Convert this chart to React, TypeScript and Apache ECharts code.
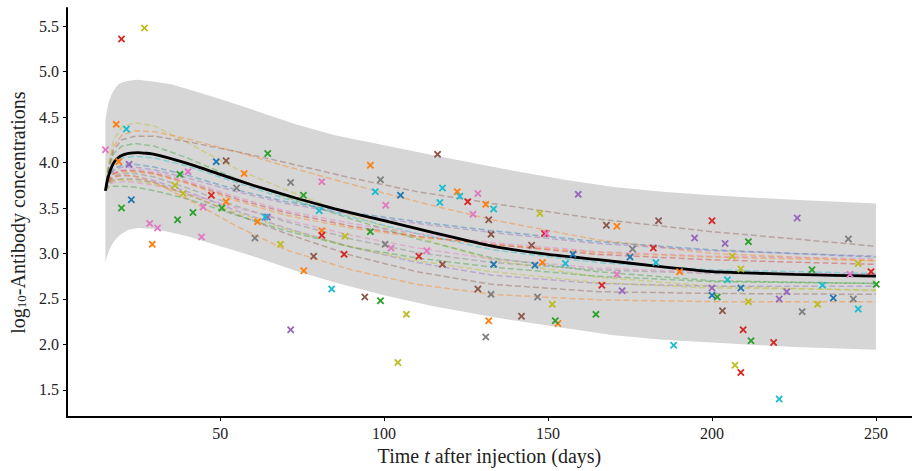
import React, { useEffect, useRef } from "react";
import * as echarts from "echarts";

// ---------- data ----------
const xTicks = [50, 100, 150, 200, 250];
const yTicks = [1.5, 2.0, 2.5, 3.0, 3.5, 4.0, 4.5, 5.0, 5.5];

// prediction band (grey)
const bandT = [15, 15.5, 16, 17, 18, 19, 20, 22, 25, 30, 35, 40, 50, 60, 73, 85, 100, 115, 135, 155, 170, 185, 200, 225, 250];
const bandUpper = [4.47, 4.58, 4.66, 4.76, 4.82, 4.86, 4.88, 4.9, 4.91, 4.89, 4.86, 4.81, 4.7, 4.58, 4.42, 4.3, 4.19, 4.08, 3.94, 3.81, 3.73, 3.68, 3.64, 3.59, 3.55];
const bandLower = [2.9, 2.97, 3.02, 3.1, 3.15, 3.19, 3.22, 3.26, 3.28, 3.27, 3.23, 3.19, 3.08, 2.97, 2.81, 2.68, 2.54, 2.42, 2.29, 2.18, 2.1, 2.05, 2.02, 1.97, 1.94];

// population mean curve (black)
const meanT = [15, 15.5, 16, 17, 18, 19.5, 22, 25, 30, 40, 50, 60, 73, 85, 100, 115, 133, 150, 166, 183, 200, 225, 250];
const meanV = [3.69, 3.79, 3.86, 3.96, 4.02, 4.07, 4.1, 4.11, 4.09, 3.99, 3.87, 3.75, 3.61, 3.49, 3.36, 3.23, 3.08, 2.99, 2.93, 2.86, 2.8, 2.77, 2.75];

// individual fitted curves (dashed)
const indivT = [15, 16, 17.5, 20, 24, 30, 40, 55, 70, 90, 110, 133, 165, 200, 250];
const curveOlive = [3.69, 3.98, 4.25, 4.39, 4.44, 4.4, 4.22, 3.93, 3.7, 3.42, 3.18, 2.93, 2.74, 2.64, 2.59];
const curveOrange = [3.69, 3.96, 4.18, 4.3, 4.35, 4.34, 4.26, 4.12, 3.96, 3.76, 3.57, 3.37, 3.15, 3.0, 2.92];
const curveBrown = [3.69, 3.95, 4.14, 4.25, 4.29, 4.29, 4.23, 4.12, 4.0, 3.83, 3.68, 3.55, 3.38, 3.24, 3.08];
const curveGreen = [3.69, 3.93, 4.1, 4.18, 4.21, 4.18, 4.05, 3.82, 3.62, 3.38, 3.16, 2.95, 2.8, 2.7, 2.67];
const curveCyan = [3.69, 3.88, 4.0, 4.05, 4.07, 4.05, 3.96, 3.78, 3.6, 3.4, 3.22, 3.04, 2.9, 2.82, 2.78];
const curveBlue = [3.69, 3.84, 3.93, 3.97, 3.98, 3.95, 3.86, 3.7, 3.57, 3.45, 3.35, 3.25, 3.13, 3.04, 2.96];
const curvePurple = [3.69, 3.83, 3.91, 3.95, 3.95, 3.92, 3.83, 3.68, 3.55, 3.43, 3.33, 3.23, 3.11, 3.03, 2.97];
const curvePink = [3.69, 3.81, 3.88, 3.92, 3.93, 3.9, 3.8, 3.62, 3.47, 3.33, 3.22, 3.12, 3.02, 2.97, 2.94];
const curveRed = [3.69, 3.81, 3.88, 3.91, 3.91, 3.88, 3.78, 3.6, 3.45, 3.3, 3.19, 3.1, 2.99, 2.93, 2.88];
const curveOrange2 = [3.69, 3.8, 3.87, 3.9, 3.9, 3.87, 3.77, 3.58, 3.42, 3.28, 3.18, 3.1, 3.01, 2.96, 2.92];
const curveGray = [3.69, 3.79, 3.85, 3.88, 3.88, 3.84, 3.72, 3.52, 3.35, 3.16, 3.01, 2.9, 2.82, 2.78, 2.76];
const curvePink2 = [3.69, 3.76, 3.78, 3.79, 3.78, 3.75, 3.66, 3.5, 3.37, 3.2, 3.06, 2.94, 2.84, 2.79, 2.77];
const curvePurple2 = [3.69, 3.79, 3.84, 3.86, 3.85, 3.8, 3.68, 3.47, 3.28, 3.07, 2.9, 2.76, 2.67, 2.64, 2.64];
const curveBrown2 = [3.69, 3.77, 3.81, 3.82, 3.82, 3.78, 3.65, 3.43, 3.22, 2.98, 2.8, 2.66, 2.58, 2.56, 2.55];
const curveGreen2 = [3.69, 3.73, 3.74, 3.74, 3.73, 3.69, 3.6, 3.42, 3.25, 3.07, 2.95, 2.85, 2.75, 2.69, 2.67];
const curveOlive2 = [3.69, 3.76, 3.8, 3.81, 3.8, 3.76, 3.65, 3.45, 3.27, 3.07, 2.92, 2.8, 2.68, 2.62, 2.6];
const curveOrange3 = [3.69, 3.79, 3.84, 3.86, 3.85, 3.78, 3.6, 3.3, 3.04, 2.82, 2.66, 2.55, 2.49, 2.47, 2.47];

// observations [day, log10 concentration]
const obsBlue = [[22.9, 3.59], [48.8, 4.01], [105.0, 3.64], [133.4, 2.88], [146.0, 2.87], [157.6, 2.99], [175.0, 2.96], [200, 2.54], [208.8, 2.62], [237.0, 2.51]];
const obsOrange = [[18.3, 4.42], [19.1, 4.01], [29.3, 3.1], [51.8, 3.57], [57.3, 3.88], [61.4, 3.35], [75.5, 2.81], [81, 3.25], [95.8, 3.97], [122.3, 3.68], [131.0, 3.54], [131.9, 2.26], [148.3, 2.9], [153.0, 2.23], [171.0, 3.3], [190.1, 2.8]];
const obsGreen = [[19.9, 3.5], [37.0, 3.37], [37.7, 3.87], [41.7, 3.45], [50.5, 3.5], [64.5, 4.1], [75.4, 3.64], [95.8, 3.24], [98.9, 2.48], [152.2, 2.26], [164.6, 2.33], [201.6, 2.52], [211.1, 3.13], [211.9, 2.04], [230.5, 2.82], [250.1, 2.66]];
const obsRed = [[19.9, 5.36], [47.3, 3.64], [81, 3.2], [87.8, 2.99], [110.6, 2.97], [125.5, 3.57], [148.9, 3.22], [166.4, 2.65], [182.1, 3.06], [200, 3.36], [209.5, 2.16], [208.8, 1.69], [218.8, 2.02], [248.5, 2.8]];
const obsPurple = [[22.2, 3.98], [64.4, 3.4], [71.5, 2.16], [159.2, 3.65], [172.6, 2.59], [194.7, 3.17], [200, 2.62], [204.0, 3.11], [220.5, 2.5], [222.8, 2.58], [226, 3.39]];
const obsBrown = [[51.8, 4.02], [78.5, 2.97], [94.1, 2.52], [116.3, 4.09], [117.8, 2.88], [128.6, 2.61], [131.9, 3.37], [132.6, 3.21], [141.9, 2.31], [145.0, 3.09], [167.8, 3.31], [183.7, 3.36], [203.2, 2.37]];
const obsPink = [[15.0, 4.14], [28.5, 3.33], [30.9, 3.28], [40.2, 3.9], [44.3, 3.18], [44.8, 3.51], [81.0, 3.79], [100.5, 3.53], [102.1, 3.06], [113.0, 3.03], [127.1, 3.43], [128.6, 3.66], [149.5, 3.22], [171, 2.77], [242.1, 2.77]];
const obsGray = [[55.0, 3.72], [60.6, 3.17], [71.5, 3.78], [98.9, 3.81], [100.3, 3.1], [131.0, 2.08], [132.6, 2.55], [146.8, 2.52], [175.8, 3.05], [227.5, 2.36], [241.6, 3.16], [243.1, 2.5]];
const obsOlive = [[26.9, 5.48], [36.2, 3.75], [38.7, 3.66], [68.4, 3.1], [88.1, 3.19], [104.2, 1.8], [106.8, 2.33], [147.5, 3.44], [151.3, 2.44], [206.2, 2.97], [207.0, 1.77], [208.8, 2.83], [211.1, 2.47], [232.2, 2.44], [244.6, 2.89]];
const obsCyan = [[21.4, 4.37], [63.7, 3.4], [80.2, 3.47], [84.0, 2.61], [97.3, 3.68], [117.0, 3.56], [117.8, 3.72], [123.1, 3.63], [133.4, 3.49], [155.3, 2.89], [182.9, 2.9], [188.3, 1.99], [204.7, 2.71], [220.5, 1.4], [233.7, 2.65], [244.6, 2.39]];

// ---------- styling ----------
const C = {
  blue: "#1f77b4", orange: "#ff7f0e", green: "#2ca02c", red: "#d62728", purple: "#9467bd",
  brown: "#8c564b", pink: "#e377c2", gray: "#7f7f7f", olive: "#bcbd22", cyan: "#17becf",
};
const FONT = '"Liberation Serif", "Times New Roman", serif';
const CROSS = "path://M0,1.7 L1.7,0 L5,3.3 L8.3,0 L10,1.7 L6.7,5 L10,8.3 L8.3,10 L5,6.7 L1.7,10 L0,8.3 L3.3,5 Z";

const curves: [number[], string][] = [
  [curveOlive, C.olive], [curveOrange, C.orange], [curveBrown, C.brown], [curveGreen, C.green],
  [curveCyan, C.cyan], [curveBlue, C.blue], [curvePurple, C.purple], [curvePink, C.pink],
  [curveRed, C.red], [curveOrange2, C.orange], [curveGray, C.gray], [curvePink2, C.pink],
  [curvePurple2, C.purple], [curveBrown2, C.brown], [curveGreen2, C.green], [curveOlive2, C.olive],
  [curveOrange3, C.orange],
];
const observations: [number[][], string][] = [
  [obsBlue, C.blue], [obsOrange, C.orange], [obsGreen, C.green], [obsRed, C.red], [obsPurple, C.purple],
  [obsBrown, C.brown], [obsPink, C.pink], [obsGray, C.gray], [obsOlive, C.olive], [obsCyan, C.cyan],
];

export default function App() {
  const ref = useRef<HTMLDivElement>(null);
  useEffect(() => {
    if (!ref.current) return;
    const chart = echarts.init(ref.current, undefined, { renderer: "svg" });
    const series: any[] = [];
    series.push({
      type: "custom", z: 1, silent: true, clip: true,
      data: [[bandT[0], bandUpper[0]]],
      renderItem: (_params: any, api: any) => {
        const pts: number[][] = [];
        for (let i = 0; i < bandT.length; i++) pts.push(api.coord([bandT[i], bandUpper[i]]));
        for (let i = bandT.length - 1; i >= 0; i--) pts.push(api.coord([bandT[i], bandLower[i]]));
        return { type: "polygon", shape: { points: pts }, style: { fill: "#d6d6d6", stroke: "none" } };
      },
    });
    curves.forEach(([vals, col]) => {
      series.push({
        type: "line", symbol: "none", smooth: false, z: 2,
        data: indivT.map((t, i) => [t, vals[i]]),
        lineStyle: { color: col, width: 1.5, type: [6, 3], opacity: 0.4 },
      });
    });
    series.push({
      type: "line", symbol: "none", smooth: 0.15, z: 3,
      data: meanT.map((t, i) => [t, meanV[i]]),
      lineStyle: { color: "#000", width: 2.8 },
    });
    observations.forEach(([pts, col]) => {
      series.push({
        type: "scatter", symbol: CROSS, symbolSize: 7.5, z: 4,
        data: pts,
        itemStyle: { color: col, opacity: 1 },
      });
    });

    chart.setOption({
      animation: false,
      backgroundColor: "#fff",
      grid: { left: 60, right: 0, top: 8, bottom: 48, containLabel: false },
      xAxis: {
        type: "value", min: 3.25, max: 261,
        splitLine: { show: false },
        axisLine: { show: true, onZero: false, lineStyle: { color: "#000", width: 2 } },
        axisTick: { show: true, length: 4, customValues: xTicks, lineStyle: { color: "#000", width: 1 } },
        axisLabel: { customValues: xTicks, fontFamily: FONT, fontSize: 16, color: "#222", margin: 8 },
        name: "{n|Time }{i|t}{n| after injection (days)}",
        nameLocation: "middle", nameGap: 24,
        nameTextStyle: {
          fontFamily: FONT, fontSize: 20, color: "#222",
          rich: {
            n: { fontFamily: FONT, fontSize: 20, color: "#222" },
            i: { fontFamily: FONT, fontSize: 20, color: "#222", fontStyle: "italic" },
          },
        },
      },
      yAxis: {
        type: "value", min: 1.2, max: 5.7,
        splitLine: { show: false },
        axisLine: { show: true, onZero: false, lineStyle: { color: "#000", width: 2 } },
        axisTick: { show: true, length: 4, customValues: yTicks, lineStyle: { color: "#000", width: 1 } },
        axisLabel: {
          customValues: yTicks, fontFamily: FONT, fontSize: 16, color: "#222", margin: 8,
          formatter: (v: number) => v.toFixed(1),
        },
        name: "{a|log}{b|10}{a|-Antibody concentrations}",
        nameLocation: "middle", nameGap: 30, nameRotate: 90,
        nameTextStyle: {
          fontFamily: FONT, fontSize: 20, color: "#222",
          rich: {
            a: { fontFamily: FONT, fontSize: 20, color: "#222" },
            b: { fontFamily: FONT, fontSize: 13, color: "#222", verticalAlign: "bottom" },
          },
        },
      },
      series,
    });
    return () => chart.dispose();
  }, []);
  return (
    <div
      ref={ref}
      style={{ position: "fixed", left: 0, top: 0, width: 912, height: 471, background: "#fff" }}
    />
  );
}
